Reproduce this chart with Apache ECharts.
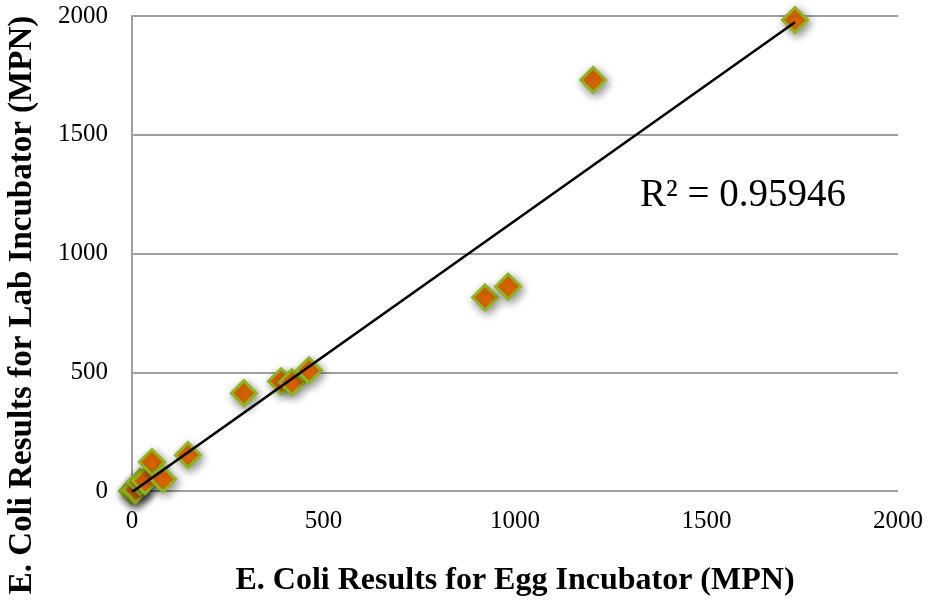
<!DOCTYPE html>
<html>
<head>
<meta charset="utf-8">
<script src="https://cdn.jsdelivr.net/npm/echarts@6/dist/echarts.min.js"></script>
<style>
  html, body { margin: 0; padding: 0; background: #fff; }
  #chart { width: 928px; height: 602px; }
</style>
</head>
<body>
<div id="chart"></div>
<script>
// valores (MPN)
var eggIncubator = [0, 5, 10, 21, 34, 52, 81, 146, 292, 389, 418, 462, 922, 982, 1204, 1731];
var labIncubator = [0, 2, 5, 38, 42, 122, 50, 151, 412, 462, 458, 508, 815, 861, 1731, 1983];
var axisTicks = [0, 500, 1000, 1500, 2000];
var rSquaredText = 'R² = 0.95946';

var points = eggIncubator.map(function (x, i) { return [x, labIncubator[i]]; });

// recta de tendencia por minimos cuadrados
var n = points.length, sx = 0, sy = 0, sxx = 0, sxy = 0;
points.forEach(function (p) { sx += p[0]; sy += p[1]; sxx += p[0] * p[0]; sxy += p[0] * p[1]; });
var slope = (n * sxy - sx * sy) / (n * sxx - sx * sx);
var inter = (sy - slope * sx) / n;
var xMin = Math.min.apply(null, eggIncubator), xMax = Math.max.apply(null, eggIncubator);
var trend = [[xMin, inter + slope * xMin], [xMax, inter + slope * xMax]];

var serif = '"Liberation Serif", "DejaVu Serif", serif';
var plain = function (v) { return String(v); };
var chart = echarts.init(document.getElementById('chart'), null, { renderer: 'canvas' });

chart.setOption({
  animation: false,
  grid: { left: 132, right: 30, top: 16, bottom: 110 },
  xAxis: {
    type: 'value',
    min: axisTicks[0], max: axisTicks[axisTicks.length - 1], interval: 500,
    name: 'E. Coli Results for Egg Incubator (MPN)',
    nameLocation: 'middle', nameGap: 74,
    nameTextStyle: { fontFamily: serif, fontSize: 32, fontWeight: 'bold', color: '#000' },
    axisLine: { show: false },
    axisTick: { show: false },
    axisLabel: { fontFamily: serif, fontSize: 25, color: '#000', margin: 18, formatter: plain },
    splitLine: { show: false }
  },
  yAxis: {
    type: 'value',
    min: axisTicks[0], max: axisTicks[axisTicks.length - 1], interval: 500,
    axisLine: { show: true, lineStyle: { color: '#a0a0a0', width: 2 } },
    axisTick: { show: false },
    axisLabel: { fontFamily: serif, fontSize: 25, color: '#000', margin: 24, formatter: plain },
    splitLine: { show: true, lineStyle: { color: '#a0a0a0', width: 2 } }
  },
  graphic: [
    {
      type: 'text', x: 640, y: 196,
      style: { text: rSquaredText, font: '39px ' + serif, fill: '#000', verticalAlign: 'middle' }
    },
    {
      type: 'text', x: 22, y: 305, rotation: Math.PI / 2,
      style: {
        text: 'E. Coli Results for Lab Incubator (MPN)',
        font: 'bold 33px ' + serif, fill: '#000',
        align: 'center', verticalAlign: 'middle'
      }
    }
  ],
  series: [
    {
      type: 'scatter',
      data: points,
      symbol: 'diamond',
      symbolSize: 25,
      itemStyle: {
        color: '#ea6c00',
        opacity: 1,
        borderColor: '#8fb51c',
        borderWidth: 3,
        shadowBlur: 10,
        shadowColor: 'rgba(0,0,0,0.45)',
        shadowOffsetX: 2,
        shadowOffsetY: 3
      },
      z: 2
    },
    {
      type: 'line',
      data: trend,
      symbol: 'none',
      lineStyle: { color: '#000', width: 2.5 },
      z: 3
    }
  ]
});
</script>
</body>
</html>
